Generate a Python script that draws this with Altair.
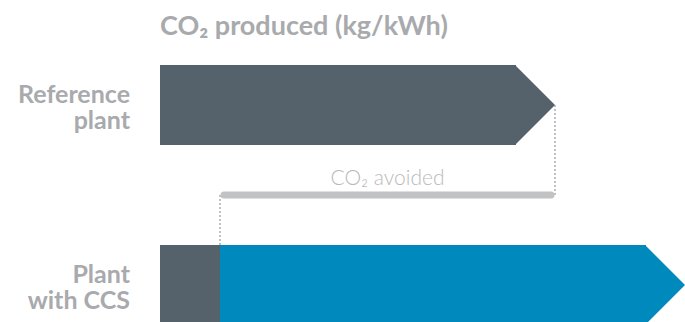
import altair as alt
import pandas as pd

# ---- data (kg CO2 per kWh) ----
row_labels = ["Reference\nplant", "Plant\nwith CCS"]
row_pos = [0, 1]
produced = [0.79, 1.05]     # total CO2 produced by each plant
emitted = [0.79, 0.12]      # CO2 emitted to atmosphere
avoided_label = "CO₂ avoided"
title_text = "CO₂ produced (kg/kWh)"

dark = "#56626B"
blue = "#0089BC"
light = "#C1C2C4"
dots_col = "#BFC0C2"
text_gray = "#A8AAAD"

xs = alt.Scale(domain=[0, 1.05], nice=False, zero=True)
ys = alt.Scale(domain=[0, 1], range=[60, 240])

body = pd.DataFrame({
    "pos": row_pos,
    "start": [0, emitted[1]],
    "end": produced,
    "color": [dark, blue],
})
stub = pd.DataFrame({"pos": [1], "start": [0], "end": [emitted[1]], "color": [dark]})
avoid = pd.DataFrame({
    "start": [emitted[1]], "end": [emitted[0]], "pos": [0.5],
    "mid": [(emitted[0] + emitted[1]) / 2], "label": [avoided_label],
})
dots = pd.DataFrame({"x": [emitted[0], emitted[1]], "y1": [0, 0.5], "y2": [0.5, 1]})
labels = pd.DataFrame({"pos": row_pos, "label": row_labels, "x0": [0, 0]})

X = lambda f: alt.X(f, scale=xs, axis=None)
Y = lambda f: alt.Y(f, scale=ys, axis=None)
C = alt.Color("color:N", scale=None, legend=None)

dotted = alt.Chart(dots).mark_rule(strokeDash=[2, 2], strokeWidth=2, color=dots_col).encode(
    x=X("x:Q"), y=Y("y1:Q"), y2="y2:Q")

avoid_bar = alt.Chart(avoid).mark_rule(strokeWidth=7, strokeCap="round", color=light,
                                       xOffset=4, x2Offset=-4).encode(
    x=X("start:Q"), x2="end:Q", y=Y("pos:Q"))

avoid_text = alt.Chart(avoid).mark_text(dy=-10, baseline="alphabetic", fontSize=21,
                                        font="Lato", fontWeight=300, color="#B9BABC").encode(
    x=X("mid:Q"), y=Y("pos:Q"), text="label:N")

bodies = alt.Chart(body).mark_rule(strokeWidth=80, strokeCap="butt", x2Offset=-39).encode(
    x=X("start:Q"), x2="end:Q", y=Y("pos:Q"), color=C)

stubs = alt.Chart(stub).mark_rule(strokeWidth=80, strokeCap="butt").encode(
    x=X("start:Q"), x2="end:Q", y=Y("pos:Q"), color=C)

heads = alt.Chart(body).mark_point(shape="M-1,-1L0,0L-1,1Z", size=6400, filled=True,
                                   opacity=1, strokeWidth=0).encode(
    x=X("end:Q"), y=Y("pos:Q"), color=C)

row_text = alt.Chart(labels).mark_text(align="right", baseline="alphabetic", dx=-30, dy=-2,
                                       lineBreak="\n", lineHeight=26, fontSize=25,
                                       fontWeight="bold", font="Lato", color=text_gray).encode(
    x=X("x0:Q"), y=Y("pos:Q"), text="label:N")

chart = alt.layer(dotted, avoid_bar, avoid_text, bodies, stubs, heads, row_text).properties(
    width=525, height=277,
    padding={"left": 160, "top": 45, "right": 0, "bottom": 0},
    autosize="none",
    title=alt.TitleParams(text=title_text, anchor="start", frame="group", fontSize=27,
                          font="Lato", fontWeight="bold", color=text_gray, offset=4),
).configure_view(stroke=None)

chart.save("out.html", embed_options={"renderer": "svg", "actions": False})
